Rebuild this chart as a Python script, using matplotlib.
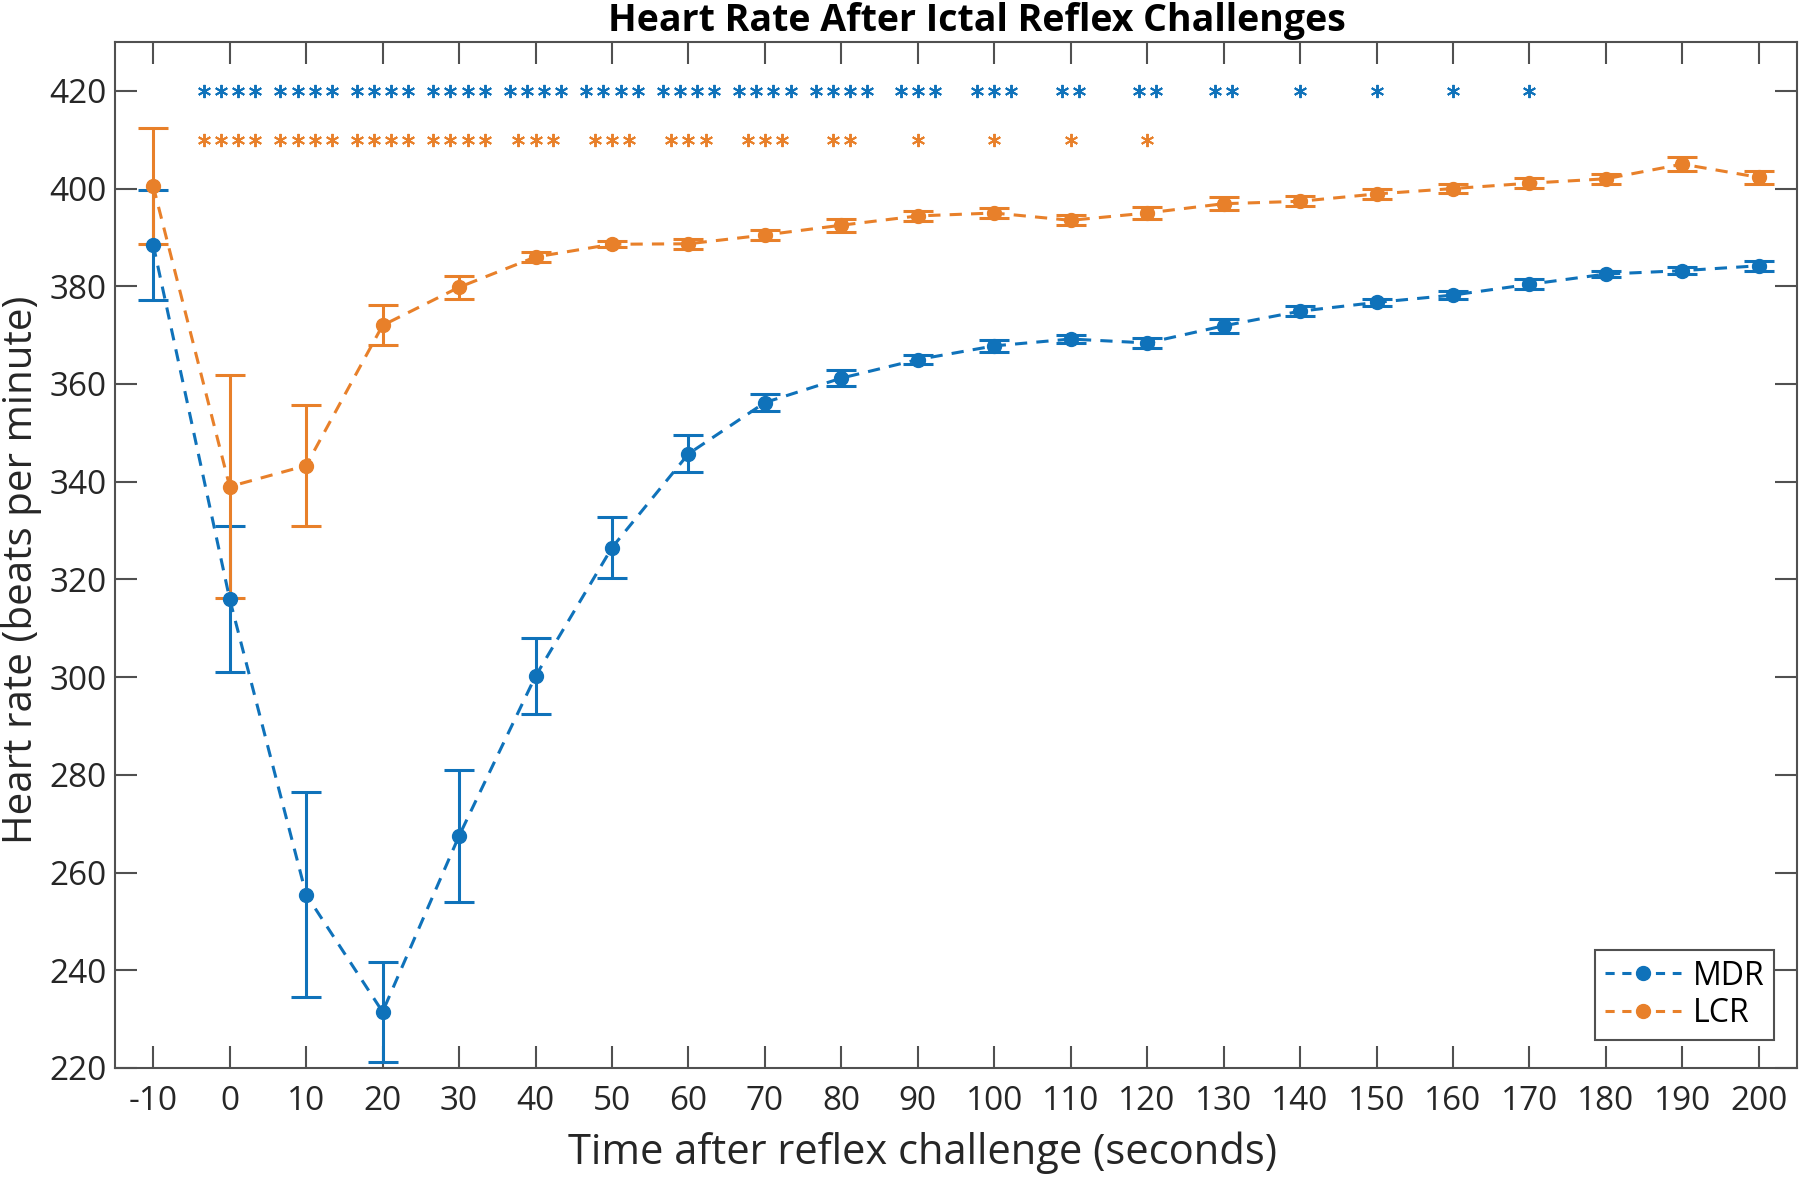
import numpy as np
import matplotlib
matplotlib.use("Agg")
import matplotlib.pyplot as plt
from matplotlib.lines import Line2D

# ---------------- data ----------------
time_s = [-10, 0, 10, 20, 30, 40, 50, 60, 70, 80, 90, 100, 110, 120, 130, 140, 150, 160, 170, 180, 190, 200]

mdr_mean = [388.5, 316.0, 255.5, 231.5, 267.5, 300.2, 326.5, 345.7, 356.2, 361.2, 365.0, 367.8, 369.2, 368.4, 371.9, 374.9, 376.7, 378.2, 380.4, 382.5, 383.2, 384.2]
mdr_err  = [11.3, 15.0, 21.0, 10.2, 13.5, 7.8, 6.2, 3.8, 1.8, 1.6, 1.0, 1.3, 0.8, 1.0, 1.5, 1.0, 0.8, 0.8, 1.0, 0.6, 0.7, 1.0]

lcr_mean = [400.5, 339.0, 343.3, 372.0, 379.8, 386.0, 388.6, 388.7, 390.5, 392.5, 394.4, 395.0, 393.5, 395.0, 396.9, 397.4, 398.9, 400.0, 401.1, 402.0, 405.0, 402.3]
lcr_err  = [11.8, 22.8, 12.3, 4.1, 2.3, 1.0, 0.6, 1.0, 1.0, 1.3, 1.0, 1.0, 1.0, 1.3, 1.3, 1.0, 1.0, 1.0, 1.0, 1.0, 1.4, 1.3]

# significance stars (number of asterisks at each time point)
mdr_star_times  = [0, 10, 20, 30, 40, 50, 60, 70, 80, 90, 100, 110, 120, 130, 140, 150, 160, 170]
mdr_star_counts = [4, 4, 4, 4, 4, 4, 4, 4, 4, 3, 3, 2, 2, 2, 1, 1, 1, 1]
lcr_star_times  = [0, 10, 20, 30, 40, 50, 60, 70, 80, 90, 100, 110, 120]
lcr_star_counts = [4, 4, 4, 4, 3, 3, 3, 3, 2, 1, 1, 1, 1]
mdr_star_level = 420
lcr_star_level = 410

x_ticks = list(range(-10, 201, 10))
y_ticks = list(range(220, 421, 20))

title = "Heart Rate After Ictal Reflex Challenges"
xlabel = "Time after reflex challenge (seconds)"
ylabel = "Heart rate (beats per minute)"
series_names = ["MDR", "LCR"]

# ---------------- style ----------------
BLUE = "#0F72BA"
ORANGE = "#E8802A"
AXC = "#505050"
TXT = "#262626"
FONT = ["Open Sans", "DejaVu Sans"]
plt.rcParams["font.family"] = FONT
plt.rcParams["axes.unicode_minus"] = False

fig = plt.figure(figsize=(18, 11.77), dpi=100)
ax = fig.add_axes([115 / 1800, 1 - 1068 / 1177, (1797 - 115) / 1800, (1068 - 42) / 1177])

lw = 2.2
for mean, err, col in [(mdr_mean, mdr_err, BLUE), (lcr_mean, lcr_err, ORANGE)]:
    ax.errorbar(time_s, mean, yerr=err, color=col, ecolor=col, elinewidth=2.2,
                capsize=11, capthick=2.2, linestyle=(0, (4, 3)), linewidth=lw,
                marker="o", markersize=10, zorder=3)


def draw_stars(times, counts, level, col):
    spacing = 2.25
    for t, n in zip(times, counts):
        xs = t + (np.arange(n) - (n - 1) / 2) * spacing
        ax.plot(xs, [level] * n, linestyle="none", marker=(6, 2, 0), markersize=9.5,
                markeredgewidth=1.4, color=col, zorder=3)


draw_stars(mdr_star_times, mdr_star_counts, mdr_star_level, BLUE)
draw_stars(lcr_star_times, lcr_star_counts, lcr_star_level, ORANGE)

ax.set_xlim(-15, 205)
ax.set_ylim(220, 430)
ax.set_xticks(x_ticks)
ax.set_yticks(y_ticks)
ax.tick_params(direction="in", length=16, width=1.5, color=AXC, labelcolor=TXT,
               labelsize=24, top=True, right=True)
ax.tick_params(axis="x", pad=12)
ax.tick_params(axis="y", pad=6)
for s in ax.spines.values():
    s.set_color(AXC)
    s.set_linewidth(1.5)

ax.set_title(title, fontsize=27, fontweight="bold", color="black", pad=8, x=0.5125,
             family=["Liberation Sans Narrow", "Open Sans", "DejaVu Sans"])
ax.set_xlabel(xlabel, fontsize=30, color=TXT)
ax.set_ylabel(ylabel, fontsize=29, color=TXT)
ax.xaxis.set_label_coords(0.48, -0.062)
ax.yaxis.set_label_coords(-0.0435, 0.486)

handles = [
    Line2D([], [], color=BLUE, linestyle=(0, (3, 2.5)), linewidth=lw, marker="o", markersize=10),
    Line2D([], [], color=ORANGE, linestyle=(0, (3, 2.5)), linewidth=lw, marker="o", markersize=10),
]
leg = ax.legend(handles, series_names, loc="lower right", bbox_to_anchor=(0.9863, 0.0273),
                borderaxespad=0, fontsize=23, frameon=True, fancybox=False, framealpha=1,
                edgecolor=AXC, handlelength=2.4, handletextpad=0.35, borderpad=0.3,
                labelspacing=0.15)
leg.get_frame().set_linewidth(1.5)

fig.savefig("out.png", dpi=100)
